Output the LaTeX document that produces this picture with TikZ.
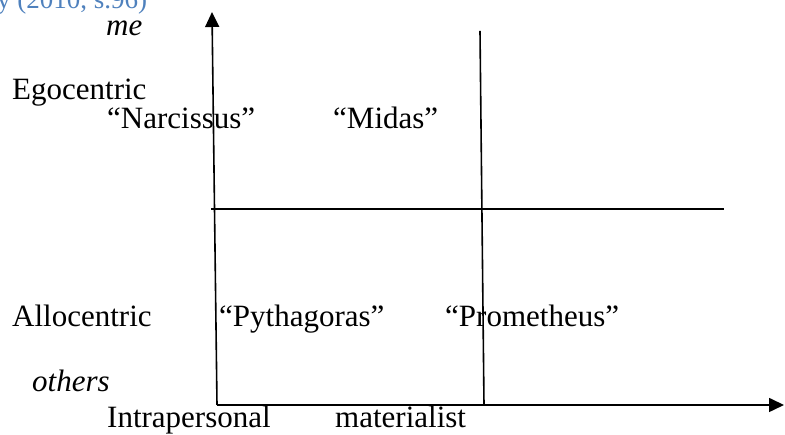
\documentclass[tikz,border=0pt]{standalone}
\usepackage{fontspec}
\setmainfont{Liberation Serif}
\usepackage{xcolor}
\usepackage{tikz}
\usetikzlibrary{arrows.meta, positioning, calc}
\definecolor{srcblue}{HTML}{4F81BD}
\tikzset{
  qaxis/.style={-{Triangle[length=15pt, width=14pt]}, line width=1.6pt},
  qline/.style={line width=1.6pt},
  qlbl/.style={anchor=base west, inner sep=0pt, font=\fontsize{31}{36}\selectfont},
  qpole/.style={qlbl, font=\fontsize{31}{36}\selectfont\itshape},
  qsrc/.style={anchor=base west, inner sep=0pt, font=\fontsize{27}{32}\selectfont, text=srcblue},
}

\begin{document}
\begin{tikzpicture}[x=1pt, y=1pt]
    \useasboundingbox (0,0) rectangle (785,435);
    \clip (0,0) rectangle (785,435);
    % axes and quadrant lines
    \coordinate (o) at (217,30);
    \coordinate (ytop) at (212,423);
    \coordinate (xend) at (784,30);
    \coordinate (mbot) at (484,30);
    \coordinate (mtop) at (480,404);
    \coordinate (hl) at (211,226);
    \coordinate (hr) at (724,226);
    \draw[qaxis] (o) -- (ytop);
    \draw[qaxis] (o) -- (xend);
    \draw[qline] (mbot) -- (mtop);
    \draw[qline] (hl) -- (hr);
    % source line, cut at the top
    \node[qsrc] (src) at (-3,426) {y (2010, s.96)};
    % pole labels
    \node[qpole] (me) at (106,399) {me};
    \node[qpole] (others) at (32,43) {others};
    \node[qlbl] (ego) at (12,335) {Egocentric};
    \node[qlbl] (allo) at (12,108) {Allocentric};
    \node[qlbl] (intra) at (107,7) {Intrapersonal};
    \node[qlbl] (mat) at (335,7) {materialist};
    % quadrant names
    \node[qlbl] (narc) at (107,306) {``Narcissus''};
    \node[qlbl] (midas) at (333,306) {``Midas''};
    \node[qlbl] (pyth) at (219,108) {``Pythagoras''};
    \node[qlbl] (prom) at (445,108) {``Prometheus''};
\end{tikzpicture}
\end{document}
